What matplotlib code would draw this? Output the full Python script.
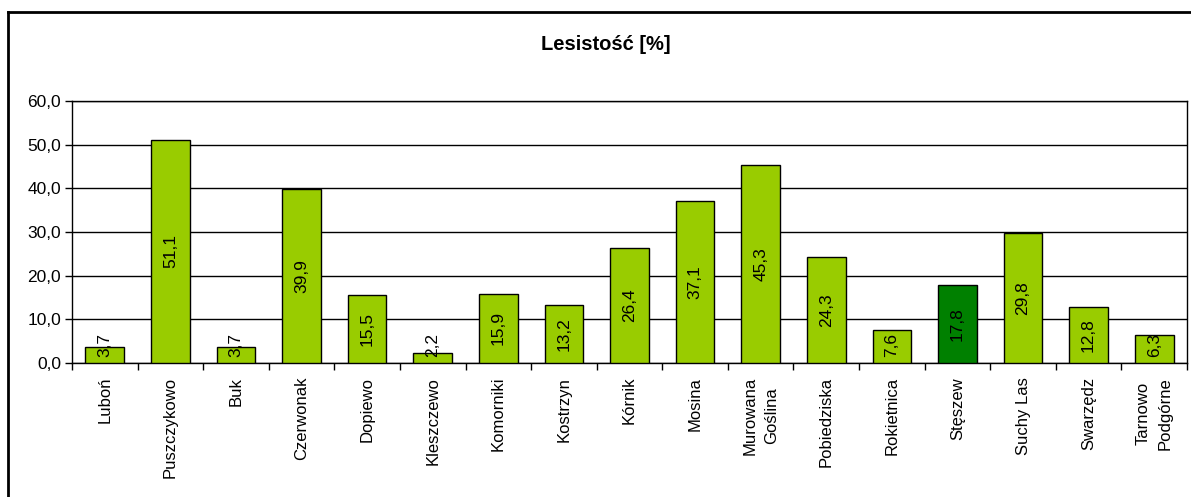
import matplotlib.pyplot as plt
import numpy as np
from matplotlib.lines import Line2D
from matplotlib.ticker import FuncFormatter

plt.rcParams['font.family'] = ['Liberation Sans', 'DejaVu Sans']

gminy = ["Luboń", "Puszczykowo", "Buk", "Czerwonak", "Dopiewo", "Kleszczewo",
         "Komorniki", "Kostrzyn", "Kórnik", "Mosina", "Murowana\nGoślina",
         "Pobiedziska", "Rokietnica", "Stęszew", "Suchy Las", "Swarzędz",
         "Tarnowo\nPodgórne"]
lesistosc = [3.7, 51.1, 3.7, 39.9, 15.5, 2.2, 15.9, 13.2, 26.4, 37.1, 45.3,
             24.3, 7.6, 17.8, 29.8, 12.8, 6.3]
wyrozniona = "Stęszew"

W, H = 1191, 497
fig = plt.figure(figsize=(W / 100, H / 100), dpi=100)
ax = fig.add_axes([72 / W, 1 - 363 / H, (1187 - 72) / W, (363 - 101) / H])

x = np.arange(len(gminy))
kolory = ['#008000' if g == wyrozniona else '#99CC00' for g in gminy]
ax.bar(x, lesistosc, width=0.59, color=kolory, edgecolor='black', linewidth=1, zorder=3)

for xi, v in zip(x, lesistosc):
    ax.text(xi, max(v / 2, 4.2), f"{v:.1f}".replace('.', ','), rotation=90,
            ha='center', va='center', fontsize=12.5, zorder=4)

ax.set_xlim(-0.5, len(gminy) - 0.5)
ax.set_ylim(0, 60)
ax.set_yticks(np.arange(0, 61, 10))
ax.yaxis.set_major_formatter(FuncFormatter(lambda v, p: f"{v:.1f}".replace('.', ',')))
ax.yaxis.grid(True, color='black', linewidth=1, zorder=0)
ax.tick_params(axis='y', length=5, width=1, labelsize=12.5, pad=3)

ax.set_xticks(x)
ax.set_xticklabels(gminy, rotation=90, fontsize=12, va='top', ha='center',
                   multialignment='center', linespacing=1.55)
ax.tick_params(axis='x', which='major', length=0, pad=10)
ax.set_xticks(np.arange(-0.5, len(gminy), 1), minor=True)
ax.tick_params(axis='x', which='minor', length=5, width=1)

for s in ax.spines.values():
    s.set_linewidth(1)
    s.set_color('black')

fig.text(606 / W, 1 - 44 / H, "Lesistość [%]", ha='center', va='center',
         fontsize=14.5, fontweight='bold')

fig.add_artist(Line2D([8 / W, 8 / W], [0, 1 - 12 / H], color='black', linewidth=2))
fig.add_artist(Line2D([8 / W, 1], [1 - 12 / H, 1 - 12 / H], color='black', linewidth=2))

fig.savefig('out.png', dpi=100, facecolor='white')
